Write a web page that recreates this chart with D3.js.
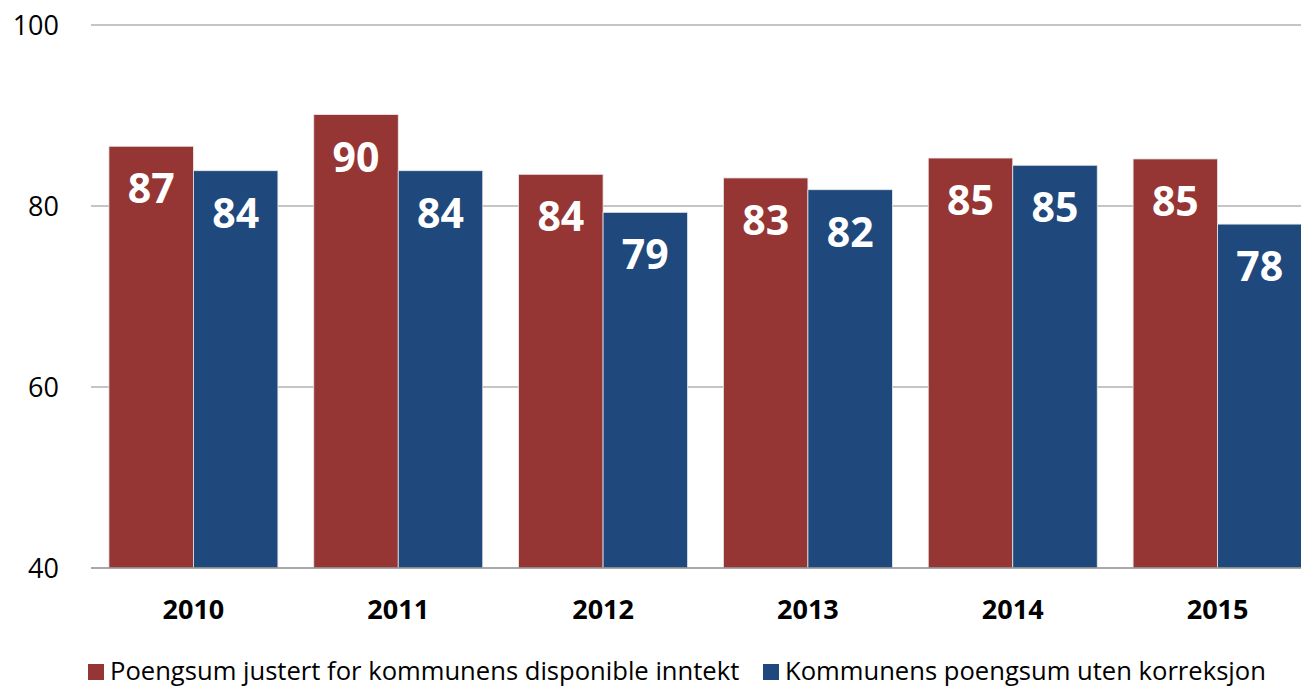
<!DOCTYPE html>
<html>
<head>
<meta charset="utf-8">
<script src="https://cdn.jsdelivr.net/npm/d3@7"></script>
<style>
body { margin: 0; background: #fff; }
svg { display: block; font-family: "Open Sans", sans-serif; }
</style>
</head>
<body>
<svg id="chart"></svg>
<script>
// data
var years = ["2010", "2011", "2012", "2013", "2014", "2015"];
var justert = [86.6, 90.1, 83.5, 83.1, 85.3, 85.2];
var utenKorr = [83.9, 83.9, 79.3, 81.8, 84.5, 78.0];
var yTicks = [40, 60, 80, 100];
var seriesNames = ["Poengsum justert for kommunens disponible inntekt", "Kommunens poengsum uten korreksjon"];
var colors = ["#963634", "#1F497D"];

var width = 1301,
    height = 687;

var svg = d3.select("#chart").attr("width", width).attr("height", height);

var x = d3.scaleBand().domain(years).range([91, 1320]).paddingInner(0.175).paddingOuter(0.0875);
var xSub = d3.scaleBand().domain([0, 1]).range([0, x.bandwidth()]);
var y = d3.scaleLinear().domain([40, 100]).range([568, 25]);

// gridlines
svg.append("g").selectAll("line").data(yTicks.slice(1)).enter().append("line")
	.attr("x1", 91).attr("x2", width)
	.attr("y1", function(d) { return y(d); }).attr("y2", function(d) { return y(d); })
	.attr("stroke", "#8c8c8c").attr("stroke-width", 1.2);

// y labels
svg.append("g").selectAll("text").data(yTicks).enter().append("text")
	.text(function(d) { return d; })
	.attr("x", 59).attr("y", function(d) { return y(d) + 10; })
	.attr("text-anchor", "end").attr("font-size", 27).attr("fill", "#000");

var rows = years.map(function(yr, i) { return [justert[i], utenKorr[i]]; });

var groups = svg.append("g").selectAll("g").data(rows).enter().append("g")
	.attr("transform", function(d, i) { return "translate(" + x(years[i]) + ",0)"; });

groups.selectAll("rect").data(function(d) { return d; }).enter().append("rect")
	.attr("x", function(d, j) { return xSub(j); })
	.attr("width", xSub.bandwidth())
	.attr("y", function(d) { return y(d); })
	.attr("height", function(d) { return y(40) - y(d); })
	.attr("fill", function(d, j) { return colors[j]; })
	.attr("stroke", "#e8e8e8").attr("stroke-width", 0.8);

groups.selectAll("text").data(function(d) { return d; }).enter().append("text")
	.text(function(d) { return Math.round(d); })
	.attr("x", function(d, j) { return xSub(j) + xSub.bandwidth() / 2; })
	.attr("y", function(d) { return y(d) + 57; })
	.attr("text-anchor", "middle").attr("font-size", 41).attr("font-weight", 700).attr("fill", "#fff");

// x axis line
svg.append("line").attr("x1", 91).attr("x2", width).attr("y1", 568).attr("y2", 568)
	.attr("stroke", "#8c8c8c").attr("stroke-width", 1.5);

svg.append("g").selectAll("text").data(years).enter().append("text")
	.text(function(d) { return d; })
	.attr("x", function(d) { return x(d) + x.bandwidth() / 2; })
	.attr("y", 619)
	.attr("text-anchor", "middle").attr("font-size", 27).attr("font-weight", 700).attr("fill", "#000");

// legend
var legendX = [88, 763];
var legend = svg.append("g").selectAll("g").data(seriesNames).enter().append("g")
	.attr("transform", function(d, i) { return "translate(" + legendX[i] + ",0)"; });
legend.append("rect").attr("x", 0).attr("y", 664).attr("width", 16).attr("height", 16)
	.attr("fill", function(d, i) { return colors[i]; });
legend.append("text").text(function(d) { return d; })
	.attr("x", 22).attr("y", 680).attr("font-size", 25.6).attr("fill", "#000");
</script>
</body>
</html>
